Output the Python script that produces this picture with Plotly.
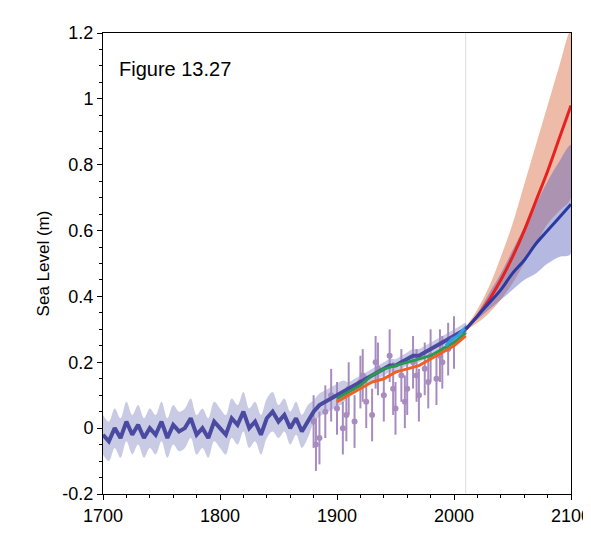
import plotly.graph_objects as go

rec_years = list(range(1700, 2011, 5))
rec_vals = [-0.02,-0.04,0.0,-0.03,0.02,-0.02,0.01,-0.03,0.0,-0.02,0.02,-0.03,0.01,-0.01,0.0,0.03,-0.02,0.0,-0.03,0.02,
            0.0,-0.02,0.03,0.01,0.05,0.0,0.02,-0.02,0.03,0.05,0.02,0.04,0.0,0.03,-0.01,0.02,0.05,0.07,0.08,0.09,
            0.10,0.11,0.12,0.13,0.14,0.15,0.16,0.17,0.18,0.19,0.19,0.20,0.21,0.22,0.22,0.23,0.24,0.25,0.26,0.27,
            0.28,0.29,0.30]
rec_unc = [0.06]*30 + [0.05]*6 + [0.035]*6 + [0.02]*21

green_years = list(range(1900, 2011, 10))
green_vals = [0.09,0.11,0.13,0.16,0.18,0.19,0.20,0.21,0.22,0.24,0.26,0.29]
orange_years = list(range(1900, 2011, 10))
orange_vals = [0.08,0.10,0.12,0.14,0.15,0.17,0.18,0.19,0.21,0.23,0.25,0.28]
cyan_years = [1993, 1998, 2003, 2008, 2011]
cyan_vals = [0.25, 0.27, 0.28, 0.30, 0.31]

pt_years = [1880,1885,1890,1895,1900,1905,1910,1915,1920,1925,1930,1935,1940,1945,1950,1955,1960,1965,1970,1975,1980,1985,1990,1995,2000,1882,1908,1922,1933,1948,1958,1968,1978,1988]
pt_vals = [0.02,-0.03,0.05,0.10,0.06,0.00,0.12,0.02,0.14,0.08,0.04,0.18,0.10,0.22,0.06,0.16,0.12,0.20,0.10,0.18,0.22,0.15,0.20,0.24,0.26,-0.05,0.04,0.16,0.20,0.12,0.08,0.16,0.14,0.22]
pt_err = [0.08]*34

proj_years = list(range(2010, 2101, 10))
red_mid = [0.30,0.34,0.39,0.45,0.52,0.60,0.69,0.78,0.88,0.98]
red_lo = [0.30,0.32,0.35,0.39,0.44,0.50,0.56,0.62,0.66,0.70]
red_hi = [0.30,0.36,0.43,0.52,0.62,0.74,0.86,0.98,1.10,1.21]
blue_mid = [0.30,0.34,0.38,0.42,0.47,0.51,0.56,0.60,0.64,0.68]
blue_lo = [0.30,0.33,0.36,0.39,0.42,0.45,0.47,0.50,0.52,0.53]
blue_hi = [0.30,0.35,0.41,0.47,0.54,0.61,0.68,0.75,0.81,0.86]

fig = go.Figure()
def band(x, lo, hi, color):
    fig.add_trace(go.Scatter(x=x+x[::-1], y=hi+lo[::-1], fill="toself", fillcolor=color,
                             line=dict(width=0, shape="spline"), mode="lines", hoverinfo="skip", showlegend=False))

band(rec_years, [v-u for v,u in zip(rec_vals,rec_unc)], [v+u for v,u in zip(rec_vals,rec_unc)], "rgba(120,125,190,0.4)")
band(proj_years, red_lo, red_hi, "rgba(220,120,80,0.5)")
band(proj_years, blue_lo, blue_hi, "rgba(90,100,190,0.45)")
fig.add_trace(go.Scatter(x=pt_years, y=pt_vals, mode="markers", marker=dict(color="#a88cc0", size=6),
                         error_y=dict(array=pt_err, color="#a88cc0", thickness=2, width=0), showlegend=False))
fig.add_trace(go.Scatter(x=rec_years, y=rec_vals, mode="lines", line=dict(color="#4a4aa0", width=4), showlegend=False))
fig.add_trace(go.Scatter(x=green_years, y=green_vals, mode="lines", line=dict(color="#2a9a50", width=3), showlegend=False))
fig.add_trace(go.Scatter(x=orange_years, y=orange_vals, mode="lines", line=dict(color="#f06020", width=3), showlegend=False))
fig.add_trace(go.Scatter(x=cyan_years, y=cyan_vals, mode="lines", line=dict(color="#30a0e0", width=3), showlegend=False))
fig.add_trace(go.Scatter(x=proj_years, y=red_mid, mode="lines", line=dict(color="#e82020", width=3, shape="spline"), showlegend=False))
fig.add_trace(go.Scatter(x=proj_years, y=blue_mid, mode="lines", line=dict(color="#2a3aa0", width=3, shape="spline"), showlegend=False))

fig.add_shape(type="line", x0=2010, x1=2010, y0=-0.2, y1=1.2, line=dict(color="#dddddd", width=1), layer="below")
fig.add_annotation(x=1712, y=1.09, text="Figure 13.27", showarrow=False, xanchor="left",
                   font=dict(size=20, color="black", family="Liberation Sans"))

axis = dict(showgrid=False, zeroline=False, showline=True, linecolor="black", mirror=True, ticks="outside",
            tickcolor="black", tickfont=dict(size=18, color="black"),
            minor=dict(ticks="outside", ticklen=3, tickcolor="black"))
fig.update_xaxes(range=[1700, 2100], tickvals=[1700,1800,1900,2000,2100], minor_dtick=20, **axis)
fig.update_yaxes(range=[-0.2, 1.2], tickvals=[-0.2,0,0.2,0.4,0.6,0.8,1,1.2], ticktext=["-0.2","0","0.2","0.4","0.6","0.8","1","1.2"],
                 minor_dtick=0.05, title=dict(text="Sea Level (m)", font=dict(size=17, color="black"), standoff=8), **axis)
fig.update_layout(width=591, height=533, margin=dict(l=95, r=28, t=25, b=47, autoexpand=False), plot_bgcolor="white",
                  paper_bgcolor="white", font=dict(family="Liberation Sans"))
fig.write_html("out.html")
